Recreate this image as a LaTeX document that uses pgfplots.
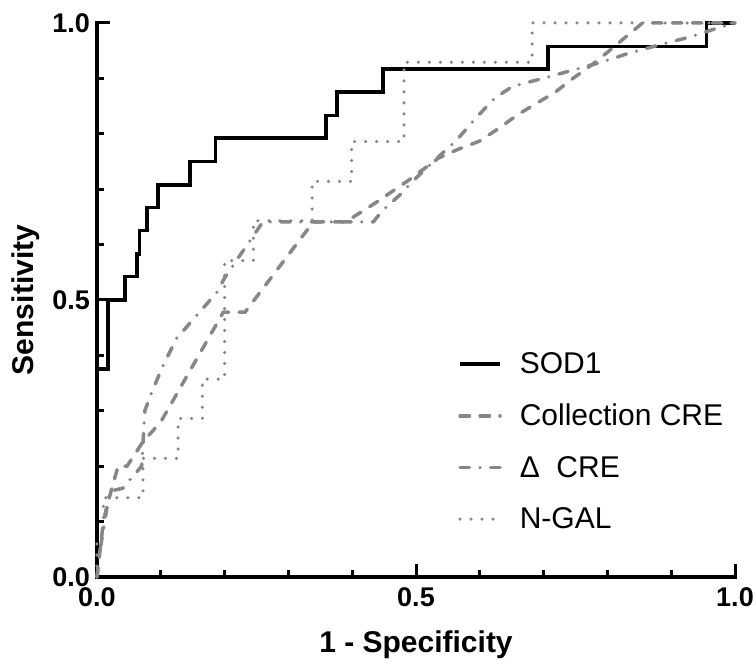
\documentclass[border=0pt]{standalone}
\usepackage{fontspec}
\setmainfont{Liberation Sans}
\usepackage{pgfplots}
\pgfplotsset{compat=1.18}
\definecolor{rocgray}{RGB}{135,135,135}
\begin{document}
\begin{tikzpicture}
\path[use as bounding box] (-97pt,-87pt) rectangle (659pt,577pt);
\begin{axis}[
  at={(0pt,0pt)}, anchor=south west,
  width=638pt, height=554pt, scale only axis,
  xmin=0, xmax=1, ymin=0, ymax=1,
  clip=false,
  axis lines=left,
  axis line style={-, line width=4pt, line cap=rect, black},
  xtick={0,0.5,1}, ytick={0,0.5,1},
  xticklabels={0.0,0.5,1.0}, yticklabels={0.0,0.5,1.0},
  minor x tick num=4, minor y tick num=4,
  tick align=inside,
  major tick length=13pt, minor tick length=7pt,
  tick style={black, line width=3pt},
  ticklabel style={font=\fontsize{27}{27}\selectfont\bfseries, inner sep=1pt},
  xticklabel style={yshift=-9pt},
  yticklabel style={xshift=-6pt},
  xlabel={\fontsize{30}{36}\selectfont\bfseries 1 - Specificity},
  ylabel={\fontsize{30}{36}\selectfont\bfseries Sensitivity},
  xlabel style={at={(axis description cs:0.5,0)}, anchor=base, yshift=-75pt},
  ylabel style={at={(axis description cs:-0.1003,0.5)}, anchor=base},
  legend style={draw=none, fill=none, at={(0.566,0.2446)}, anchor=west, inner sep=0pt,
    font=\fontsize{30}{36}\selectfont, row sep=25pt,
    /tikz/every odd column/.append style={column sep=16pt}},
  legend cell align=left,
  legend image code/.code={\draw[#1] (0pt,0pt) -- (40pt,0pt);},
]
\addplot[black, line width=3.5pt, line join=miter] coordinates {
(0,0)(0,0.375)(0.017,0.375)(0.017,0.5)(0.044,0.5)(0.044,0.542)(0.063,0.542)(0.063,0.583)
(0.067,0.583)(0.067,0.625)(0.078,0.625)(0.078,0.667)(0.096,0.667)(0.096,0.708)(0.146,0.708)
(0.146,0.75)(0.186,0.75)(0.186,0.792)(0.359,0.792)(0.359,0.833)(0.376,0.833)(0.376,0.875)
(0.448,0.875)(0.448,0.917)(0.707,0.917)(0.707,0.958)(0.955,0.958)(0.955,1)(1,1)};
\addlegendentry{SOD1}
\addplot[rocgray, line width=3.5pt, line cap=round, dash pattern=on 9.5pt off 10.5pt] coordinates {
(0,0)(0.004,0.04)(0.01,0.1)(0.016,0.13)(0.033,0.2)(0.047,0.2)(0.072,0.244)(0.1,0.28)
(0.198,0.478)(0.232,0.478)(0.339,0.641)(0.39,0.641)(0.436,0.675)(0.487,0.715)(0.535,0.756)
(0.564,0.771)(0.6,0.787)(0.63,0.81)(0.66,0.835)(0.718,0.875)(0.746,0.9)(0.775,0.924)
(0.8,0.947)(0.83,0.976)(0.855,1)(1,1)};
\addlegendentry{Collection CRE}
\addplot[rocgray, line width=3.5pt, line cap=round, dash pattern=on 9.5pt off 10.5pt on 0pt off 10.5pt] coordinates {
(0,0)(0.005,0.05)(0.012,0.1)(0.02,0.155)(0.04,0.16)(0.055,0.18)(0.07,0.2)(0.075,0.3)
(0.086,0.334)(0.104,0.383)(0.125,0.431)(0.157,0.473)(0.188,0.514)(0.2,0.54)(0.26,0.641)
(0.433,0.641)(0.448,0.662)(0.475,0.69)(0.5,0.72)(0.533,0.756)(0.564,0.789)(0.595,0.83)
(0.624,0.865)(0.652,0.886)(0.699,0.9)(0.746,0.915)(0.793,0.93)(0.835,0.946)(0.88,0.96)
(0.93,0.975)(0.97,0.99)(1,1)};
\addlegendentry{Δ\ \ CRE}
\addplot[rocgray, line width=3.5pt, line cap=round, dash pattern=on 0pt off 11pt] coordinates {
(0,0)(0,0.071)(0.01,0.071)(0.01,0.143)(0.072,0.143)(0.072,0.214)(0.127,0.214)(0.127,0.286)
(0.165,0.286)(0.165,0.357)(0.2,0.357)(0.2,0.571)(0.245,0.571)(0.245,0.643)(0.337,0.643)
(0.337,0.714)(0.399,0.714)(0.399,0.786)(0.481,0.786)(0.481,0.929)(0.682,0.929)(0.682,1)(1,1)};
\addlegendentry{N-GAL}
\end{axis}
\end{tikzpicture}
\end{document}
